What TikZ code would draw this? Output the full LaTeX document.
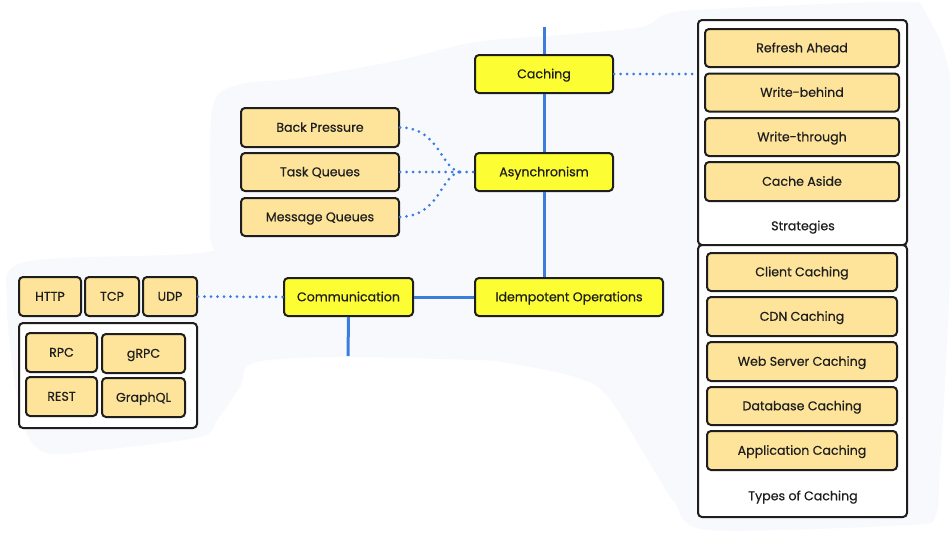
\documentclass[tikz,border=0pt]{standalone}
\usepackage{fontspec}
\setmainfont{Poppins}[FakeBold=0.5]
\definecolor{blobc}{HTML}{F7F9FC}
\definecolor{ink}{HTML}{1E1E1E}
\definecolor{mainy}{HTML}{FDFD33}
\definecolor{subo}{HTML}{FEE49A}
\definecolor{linkb}{HTML}{3B7DDD}
\tikzset{
  base/.style={draw=ink, line width=2pt, rounded corners=4pt, inner sep=0pt, text=ink, font=\fontsize{12.6}{14}\selectfont, text height=10.5pt, text depth=2pt},
  mainbox/.style={base, fill=mainy},
  subbox/.style={base, fill=subo},
  groupbox/.style={draw=ink, line width=2pt, rounded corners=4pt, fill=white, inner sep=0pt},
  solidlink/.style={draw=linkb, line width=3pt},
  dotlink/.style={draw=linkb, line width=3pt, line cap=round, dash pattern=on 0pt off 6.5pt},
  lbl/.style={text=ink, font=\fontsize{12.6}{14}\selectfont, inner sep=0pt, text height=10.5pt, text depth=2pt}
}
\begin{document}
\begin{tikzpicture}[x=1pt, y=-1pt]
\useasboundingbox (0,0) rectangle (950,541);
% background blob
\fill[blobc] plot[smooth cycle, tension=0.5] coordinates {
 (25,262) (200,253) (210,233) (212,110) (237,85) (300,78) (400,60) (475,42) (560,35) (642,27) (675,12) (800,5) (908,2) (925,12) (950,80) (950,270) (940,470) (935,517) (908,525) (708,530) (675,503) (658,477) (608,397) (575,377) (508,363) (475,360) (333,357) (253,363) (240,387) (217,420) (200,437) (100,450) (43,452) (20,413) (7,303)};

% containers
\node[groupbox, minimum width=209pt, minimum height=225pt] (strat) at (802.5,132.5) {};
\node[groupbox, minimum width=209pt, minimum height=272pt] (types) at (802.5,381) {};
\node[groupbox, minimum width=178pt, minimum height=105pt] (proto) at (108,375.5) {};

% free ends
\coordinate (topend) at (544,27);
\coordinate (commend) at (348,356);

% main nodes
\node[mainbox, minimum width=138pt, minimum height=38pt] (caching) at (544,74) {Caching};
\node[mainbox, minimum width=138pt, minimum height=38pt] (async) at (544,172) {Asynchronism};
\node[mainbox, minimum width=188pt, minimum height=38pt] (idem) at (569,297) {Idempotent Operations};
\node[mainbox, minimum width=129pt, minimum height=38pt] (comm) at (348.5,297) {Communication};

% solid links
\draw[solidlink] (topend) -- (caching.north);
\draw[solidlink] (caching.south) -- (async.north);
\draw[solidlink] (async.south) -- (async.south |- idem.north);
\draw[solidlink] (comm.east) -- (idem.west);
\draw[solidlink] (comm.south) -- (commend);

% async children
\node[subbox, minimum width=158pt, minimum height=39pt] (bp) at (320,127.5) {Back Pressure};
\node[subbox, minimum width=158pt, minimum height=38pt] (tq) at (320,172) {Task Queues};
\node[subbox, minimum width=158pt, minimum height=38pt] (mq) at (320,217) {Message Queues};
\coordinate (asyncin) at (460,172);
\draw[dotlink] (bp.east) .. controls (440,128) and (440,168) .. (asyncin);
\draw[dotlink] (tq.east) -- (asyncin);
\draw[dotlink] (mq.east) .. controls (440,216) and (440,176) .. (asyncin);
\draw[dotlink] (asyncin) -- (async.west);

% strategies
\node[subbox, minimum width=194pt, minimum height=38pt] (ra) at (802,48) {Refresh Ahead};
\node[subbox, minimum width=194pt, minimum height=38pt] (wb) at (802,92.5) {Write-behind};
\node[subbox, minimum width=194pt, minimum height=38pt] (wt) at (802,137) {Write-through};
\node[subbox, minimum width=194pt, minimum height=39pt] (ca) at (802,181.5) {Cache Aside};
\node[lbl] (stratlbl) at (803,226) {Strategies};
\draw[dotlink] (caching.east) -- (caching.east -| strat.west);

% types of caching
\node[subbox, minimum width=190pt, minimum height=38pt] (cc) at (802,272) {Client Caching};
\node[subbox, minimum width=190pt, minimum height=39pt] (cdn) at (802,316.5) {CDN Caching};
\node[subbox, minimum width=190pt, minimum height=39pt] (ws) at (802,361.5) {Web Server Caching};
\node[subbox, minimum width=190pt, minimum height=38pt] (db) at (802,406) {Database Caching};
\node[subbox, minimum width=190pt, minimum height=39pt] (app) at (802,450.5) {Application Caching};
\node[lbl] (typeslbl) at (803,496) {Types of Caching};

% protocols
\node[subbox, minimum width=62pt, minimum height=39pt] (http) at (50,296.5) {HTTP};
\node[subbox, minimum width=54pt, minimum height=39pt] (tcp) at (112,296.5) {TCP};
\node[subbox, minimum width=54pt, minimum height=39pt] (udp) at (170,296.5) {UDP};
\draw[dotlink] (udp.east) -- (comm.west);
\node[subbox, minimum width=71pt, minimum height=39pt] (rpc) at (61.5,352.5) {RPC};
\node[subbox, minimum width=83pt, minimum height=39pt] (grpc) at (143.5,353.5) {gRPC};
\node[subbox, minimum width=71pt, minimum height=39pt] (rest) at (61.5,396.5) {REST};
\node[subbox, minimum width=83pt, minimum height=39pt] (gql) at (143.5,397.5) {GraphQL};
\end{tikzpicture}
\end{document}
